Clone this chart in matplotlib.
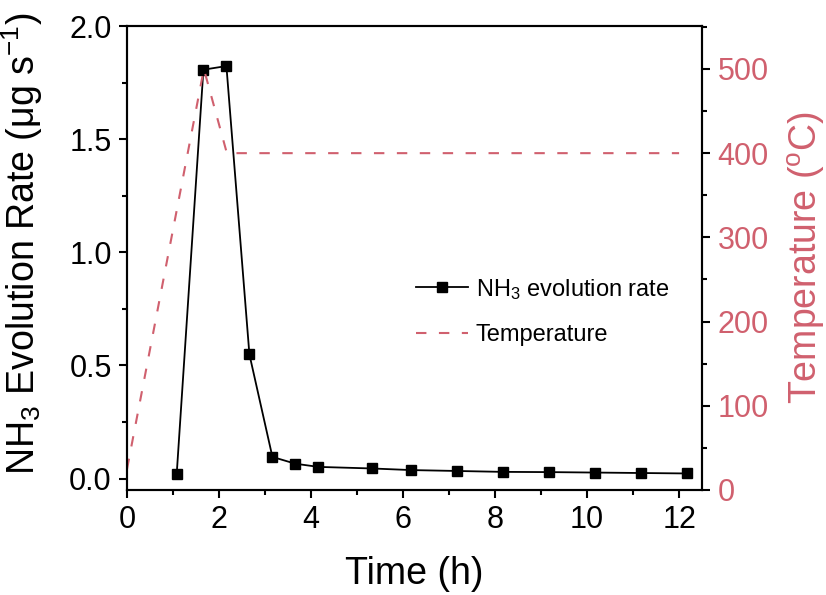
import matplotlib
matplotlib.use("Agg")
import matplotlib.pyplot as plt
from matplotlib.ticker import MultipleLocator

# ============================================================
# Podatki (odčitani s slike)
# ============================================================

time_h = [1.08, 1.66, 2.16, 2.66, 3.16, 3.66, 4.16, 5.33, 6.17, 7.17,
          8.17, 9.17, 10.17, 11.17, 12.17]
nh3_rate = [0.022, 1.807, 1.823, 0.549, 0.096, 0.066, 0.052, 0.045, 0.038,
            0.034, 0.030, 0.029, 0.027, 0.025, 0.023]

temp_time = [0.0, 1.67, 2.17, 12.0]
temp_c = [25, 500, 400, 400]

red = "#D0606E"

plt.rcParams["font.family"] = ["Liberation Sans", "DejaVu Sans"]
plt.rcParams["mathtext.fontset"] = "custom"
plt.rcParams["mathtext.rm"] = "Liberation Sans"
plt.rcParams["mathtext.it"] = "Liberation Sans"

# ============================================================
# Risanje
# ============================================================

fig = plt.figure(figsize=(8.26, 5.95), dpi=100)
ax = fig.add_axes([0.1538, 0.1765, 0.6962, 0.7798])

ax.plot(time_h, nh3_rate, color="black", lw=1.3, marker="s", ms=7.5,
        label="NH$_3$ evolution rate")

ax2 = ax.twinx()
ax2.plot(temp_time, temp_c, color=red, lw=1.5, dashes=(5, 6),
         label="Temperature")

ax.set_xlim(0, 12.5)
ax.set_ylim(-0.05, 2.0)
ax2.set_ylim(0, 551)

ax.xaxis.set_major_locator(MultipleLocator(2))
ax.xaxis.set_minor_locator(MultipleLocator(1))
ax.yaxis.set_major_locator(MultipleLocator(0.5))
ax.yaxis.set_minor_locator(MultipleLocator(0.25))
ax2.yaxis.set_major_locator(MultipleLocator(100))
ax2.yaxis.set_minor_locator(MultipleLocator(50))

ax.yaxis.set_major_formatter(plt.FormatStrFormatter("%.1f"))

for a in (ax, ax2):
    for s in a.spines.values():
        s.set_linewidth(1.5)
    a.tick_params(which="major", direction="out", length=6, width=1.5,
                  labelsize=22, pad=5)
    a.tick_params(which="minor", direction="out", length=3.5, width=1.5)

ax2.tick_params(axis="y", which="both", labelcolor=red)

ax.set_xlabel("Time (h)", fontsize=27, labelpad=15)
ax.set_ylabel("NH$_3$ Evolution Rate (μg s$^{-1}$)", fontsize=27)
ax.yaxis.set_label_coords(-0.142, 0.53)
ax2.set_ylabel("Temperature ($^{\\rm o}$C)", fontsize=27, color=red,
               labelpad=12)

h1, l1 = ax.get_legend_handles_labels()
h2, l2 = ax2.get_legend_handles_labels()
ax2.legend(h1 + h2, l1 + l2, loc="center left",
           bbox_to_anchor=(0.465, 0.385), frameon=False, fontsize=17,
           handlelength=2.2, handletextpad=0.35, labelspacing=0.95)

fig.savefig("out.png", dpi=100)
